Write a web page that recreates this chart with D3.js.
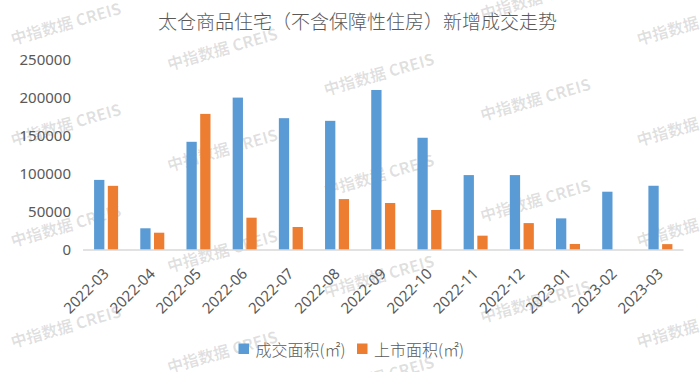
<!DOCTYPE html>
<html>
<head>
<meta charset="utf-8">
<script src="https://cdn.jsdelivr.net/npm/d3@7"></script>
<style>
  html, body { margin: 0; padding: 0; background: #fff; }
  svg { display: block; }
</style>
</head>
<body>
<svg id="chart" width="700" height="372"></svg>
<script>
// ---- data ----
const title = "太仓商品住宅（不含保障性住房）新增成交走势";
const categories = ["2022-03","2022-04","2022-05","2022-06","2022-07","2022-08","2022-09","2022-10","2022-11","2022-12","2023-01","2023-02","2023-03"];
const seriesNames = ["成交面积(㎡)", "上市面积(㎡)"];
const dealArea   = [92000, 28500, 142000, 200000, 173000, 169500, 210000, 147300, 98300, 98300, 41500, 76500, 84300];
const listedArea = [84200, 22700, 178600, 42400, 30200, 66800, 61700, 52500, 18800, 35300, 7900, 0, 7700];
const yTicks = [0, 50000, 100000, 150000, 200000, 250000];
const watermarkText = "中指数据 CREIS";

const colors = { [seriesNames[0]]: "#5B9BD5", [seriesNames[1]]: "#ED7D31" };
const textColor = "#595959";
const cjkFont = "'Noto Sans CJK SC', 'Noto Sans', sans-serif";
const numFont = "'Noto Sans', 'Liberation Sans', sans-serif";

const svg = d3.select("#chart");

// ---- watermarks (behind chart) ----
const wm = svg.append("g").attr("class", "watermarks");
for (let i = 0; i < 5; i++) {
  const cx = 66 + 156.5 * i;
  let y0 = 24 + 25.3 * i;
  while (y0 - 101 > -30) y0 -= 101;
  for (let cy = y0; cy < 400; cy += 101) {
    wm.append("text")
      .attr("transform", `translate(${cx},${cy}) rotate(-16)`)
      .attr("text-anchor", "middle")
      .attr("dy", "0.35em")
      .attr("font-family", cjkFont)
      .attr("font-weight", "bold")
      .attr("font-size", 16)
      .attr("fill", "#000")
      .attr("fill-opacity", 0.12)
      .text(watermarkText);
  }
}

// ---- scales ----
const x = d3.scaleBand().domain(categories).range([83, 683.5]).paddingInner(0.48).paddingOuter(0.24);
const x1 = d3.scaleBand().domain(seriesNames).range([0, x.bandwidth()]).paddingInner(0.25);
const y = d3.scaleLinear().domain([0, 250000]).range([250, 59.5]);

// ---- title ----
svg.append("text")
  .attr("x", 357.5).attr("y", 29)
  .attr("text-anchor", "middle")
  .attr("font-family", cjkFont)
  .attr("font-weight", 300)
  .attr("font-size", 19)
  .attr("fill", textColor)
  .text(title);

// ---- y axis labels ----
const yAxis = svg.append("g")
  .attr("transform", "translate(83,0)")
  .call(d3.axisLeft(y).tickValues(yTicks).tickSize(0).tickPadding(12).tickFormat(d3.format("d")));
yAxis.select(".domain").remove();
yAxis.selectAll("text")
  .attr("font-family", numFont)
  .attr("font-size", 15)
  .attr("fill", textColor);

// ---- bars ----
const rows = categories.map((c, i) => ({ cat: c, values: [
  { key: seriesNames[0], value: dealArea[i] },
  { key: seriesNames[1], value: listedArea[i] }
]}));

const groups = svg.append("g").selectAll("g")
  .data(rows).join("g")
  .attr("transform", d => `translate(${x(d.cat)},0)`);

groups.selectAll("rect")
  .data(d => d.values.filter(v => v.value > 0))
  .join("rect")
  .attr("x", d => x1(d.key))
  .attr("y", d => y(d.value))
  .attr("width", x1.bandwidth())
  .attr("height", d => y(0) - y(d.value))
  .attr("fill", d => colors[d.key]);

// ---- x axis ----
svg.append("line")
  .attr("x1", x.range()[0]).attr("x2", x.range()[1])
  .attr("y1", y(0)).attr("y2", y(0))
  .attr("stroke", "#d9d9d9").attr("stroke-width", 1.5);

const xAxis = svg.append("g")
  .attr("transform", `translate(0,${y(0)})`)
  .call(d3.axisBottom(x).tickSize(0));
xAxis.select(".domain").remove();
xAxis.selectAll("text")
  .attr("x", 0).attr("y", 0)
  .attr("dy", "0.35em")
  .attr("text-anchor", "end")
  .attr("transform", "translate(0,21) rotate(-45)")
  .attr("font-family", numFont)
  .attr("font-size", 15)
  .attr("fill", textColor);

// ---- legend ----
const legendItems = [
  { key: seriesNames[0], x: 238.5 },
  { key: seriesNames[1], x: 357 }
];
const legend = svg.append("g");
legendItems.forEach(it => {
  legend.append("rect")
    .attr("x", it.x).attr("y", 343.5)
    .attr("width", 10.5).attr("height", 10.5)
    .attr("fill", colors[it.key]);
  legend.append("text")
    .attr("x", it.x + 17).attr("y", 356)
    .attr("font-family", cjkFont)
    .attr("font-weight", 300)
    .attr("font-size", 16)
    .attr("fill", textColor)
    .text(it.key);
});
</script>
</body>
</html>
